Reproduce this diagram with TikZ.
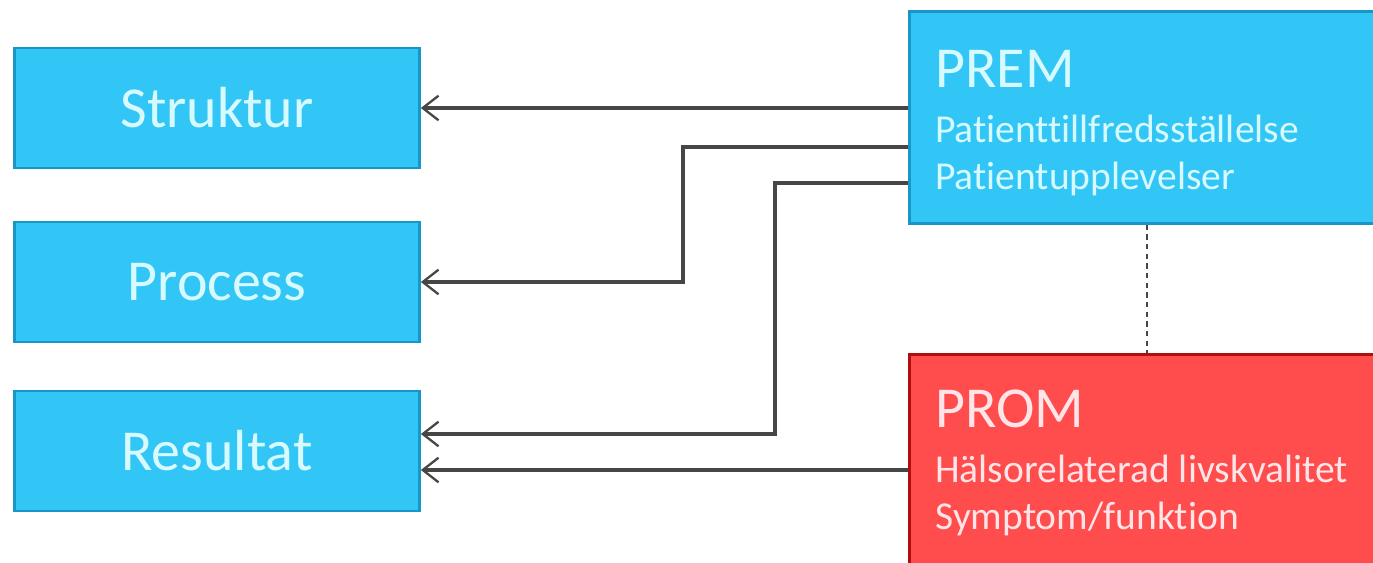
\documentclass[tikz,border=0pt]{standalone}
\usepackage{fontspec}
\setmainfont{Carlito}[Ligatures=NoCommon]
\usetikzlibrary{arrows.meta}
\usetikzlibrary{positioning}

\definecolor{boxblue}{RGB}{50,198,246}
\definecolor{edgeblue}{RGB}{24,150,200}
\definecolor{boxred}{RGB}{255,76,76}
\definecolor{edgered}{RGB}{175,15,15}
\definecolor{txtblue}{RGB}{214,250,255}
\definecolor{txtred}{RGB}{255,228,232}
\definecolor{linegray}{RGB}{70,70,70}

\tikzset{
  bluebox/.style={draw=edgeblue, fill=boxblue, line width=1.6pt, rectangle,
    minimum width=8.1cm, minimum height=2.4cm, inner sep=0pt,
    text=txtblue, font=\fontsize{33}{38}\selectfont},
  mainbox/.style={rectangle, line width=1.6pt, inner sep=0pt, anchor=north west,
    minimum width=9.6cm},
  titletext/.style={anchor=base west, inner sep=0pt, font=\fontsize{33}{38}\selectfont},
  subtext/.style={anchor=base west, inner sep=0pt, font=\fontsize{22.5}{26}\selectfont},
  arr/.style={draw=linegray, line width=1.9pt, {Straight Barb[length=9pt,width=14pt,line width=1.3pt]}-},
  dots/.style={draw=linegray, line width=1.5pt, dash pattern=on 3pt off 2.5pt}
}

\begin{document}
\begin{tikzpicture}[x=0.02cm,y=-0.02cm]
  \pgfmathsetmacro{\BendA}{683}
  \pgfmathsetmacro{\BendB}{775}
  \pgfmathsetmacro{\DotX}{1147}

  \clip (0,0) rectangle (1373,563);
  \fill[white] (0,0) rectangle (1373,563);

  % left column
  \node[bluebox] (struktur) at (217,108) {Struktur};
  \node[bluebox] (process) at (217,282) {Process};
  \node[bluebox] (resultat) at (217,451) {Resultat};

  % right column
  \node[mainbox, draw=edgeblue, fill=boxblue, minimum height=4.24cm] (prem) at (908,10) {};
  \node[mainbox, draw=edgered, fill=boxred, minimum height=4.6cm] (prom) at (908,353) {};

  \node[titletext, text=txtblue] (premtitle) at (935,88) {PREM};
  \node[subtext, text=txtblue] (premone) at (935,143) {Patienttillfredsställelse};
  \node[subtext, text=txtblue] (premtwo) at (935,190) {Patientupplevelser};

  \node[titletext, text=txtred] (promtitle) at (935,428) {PROM};
  \node[subtext, text=txtred] (promone) at (935,483) {Hälsorelaterad livskvalitet};
  \node[subtext, text=txtred] (promtwo) at (935,530) {Symptom/funktion};

  \coordinate (bendA) at (\BendA,147);
  \coordinate (bendB) at (\BendB,183);
  \coordinate (dotline) at (\DotX,0);

  % connectors
  \draw[arr] (struktur.east) -- (prem.west |- struktur.east);
  \draw[arr] (process.east) -| (bendA) -- (bendA -| prem.west);
  \draw[arr] ([yshift=0.34cm]resultat.east) -| (bendB) -- (bendB -| prem.west);
  \draw[arr] ([yshift=-0.38cm]resultat.east) -- ([yshift=-0.38cm]resultat.east -| prom.west);
  \draw[dots] (prem.south -| dotline) -- (prom.north -| dotline);
\end{tikzpicture}
\end{document}
